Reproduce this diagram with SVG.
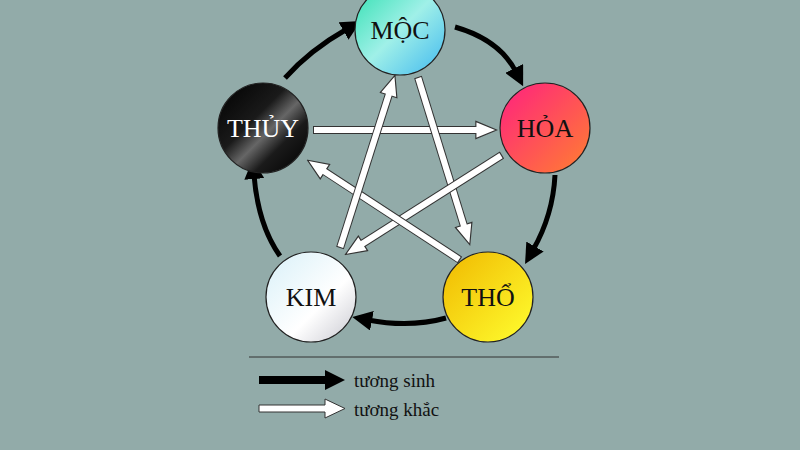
<svg xmlns="http://www.w3.org/2000/svg" width="800" height="450" viewBox="0 0 800 450">
<defs>
<linearGradient id="gm" x1="0" y1="0" x2="1" y2="1"><stop offset="0" stop-color="#30e0b0"/><stop offset="0.5" stop-color="#a0f0e8"/><stop offset="1" stop-color="#40b8f0"/></linearGradient>
<linearGradient id="gh" x1="0" y1="0" x2="1" y2="1"><stop offset="0" stop-color="#ff2080"/><stop offset="1" stop-color="#ff8030"/></linearGradient>
<linearGradient id="gt" x1="0" y1="0" x2="1" y2="1"><stop offset="0" stop-color="#f0b800"/><stop offset="1" stop-color="#ffff30"/></linearGradient>
<linearGradient id="gk" x1="0" y1="0" x2="1" y2="1"><stop offset="0" stop-color="#d8f0f8"/><stop offset="0.6" stop-color="#ffffff"/><stop offset="1" stop-color="#c8c8d0"/></linearGradient>
<linearGradient id="gw" x1="0" y1="0" x2="1" y2="1"><stop offset="0" stop-color="#000"/><stop offset="0.4" stop-color="#1a1a1a"/><stop offset="0.55" stop-color="#666"/><stop offset="0.7" stop-color="#1a1a1a"/><stop offset="1" stop-color="#000"/></linearGradient>
<marker id="bh" viewBox="0 0 10 10" refX="2" refY="5" markerWidth="4" markerHeight="4" orient="auto" markerUnits="strokeWidth"><path d="M0,0 L10,5 L0,10 z" fill="#000"/></marker>
<marker id="wh" viewBox="0 0 20 20" refX="2" refY="10" markerWidth="23" markerHeight="23" orient="auto" markerUnits="userSpaceOnUse"><path d="M1,2.5 L19,10 L1,17.5 z" fill="#fff" stroke="#333" stroke-width="1"/></marker>
<style>
.c{stroke:#222;stroke-width:1.2}
.t{font-family:"Liberation Serif",serif;font-size:26px;text-anchor:middle;fill:#111}
.b{fill:none;stroke:#000;stroke-width:5;marker-end:url(#bh)}
.wo{fill:none;stroke:#333;stroke-width:8;marker-end:url(#wh)}
.wi{fill:none;stroke:#fff;stroke-width:6}
.l{font-family:"Liberation Serif",serif;font-size:19px;fill:#111}
</style>
</defs>
<rect width="800" height="450" fill="#92aba9"/>
<g id="connectors">
<path class="b" d="M455,27 Q500,40 516,72"/>
<path class="b" d="M555,175 Q553,215 533,250"/>
<path class="b" d="M446,318 Q410,328 368,320"/>
<path class="b" d="M280,256 Q258,225 254,175"/>
<path class="b" d="M285,78 Q310,50 347,29"/>
<path class="wo" d="M313,130 L477,130"/><path class="wi" d="M314,130 L478,130"/>
<path class="wo" d="M418,77 L464,226"/><path class="wi" d="M418.3,78 L464.3,227"/>
<path class="wo" d="M502,155 L362,244"/><path class="wi" d="M501,155.6 L361,244.6"/>
<path class="wo" d="M460,260 L324,171"/><path class="wi" d="M459,259.4 L323,170.4"/>
<path class="wo" d="M340,248 L389,94"/><path class="wi" d="M340.3,247 L389.3,93"/>
</g>
<g id="moc"><circle class="c" cx="400" cy="30" r="45" fill="url(#gm)"/><text class="t" x="400" y="39">MỘC</text></g>
<g id="hoa"><circle class="c" cx="545" cy="128" r="45" fill="url(#gh)"/><text class="t" x="545" y="137">HỎA</text></g>
<g id="tho"><circle class="c" cx="488" cy="297" r="45" fill="url(#gt)"/><text class="t" x="488" y="306">THỔ</text></g>
<g id="kim"><circle class="c" cx="311" cy="297" r="45" fill="url(#gk)"/><text class="t" x="311" y="306">KIM</text></g>
<g id="thuy"><circle class="c" cx="263" cy="128" r="45" fill="url(#gw)"/><text class="t" x="263" y="137" style="fill:#fff">THỦY</text></g>
<g id="legend">
<line x1="249" y1="357" x2="559" y2="357" stroke="#333" stroke-width="1"/>
<path d="M259,376 L325,376 L325,370 L345,380 L325,390 L325,384 L259,384 z" fill="#000"/>
<path d="M259,405 L325,405 L325,399 L345,408.5 L325,418 L325,412 L259,412 z" fill="#fff" stroke="#333" stroke-width="1"/>
<text class="l" x="354" y="387">tương sinh</text>
<text class="l" x="354" y="416">tương khắc</text>
</g>
</svg>
